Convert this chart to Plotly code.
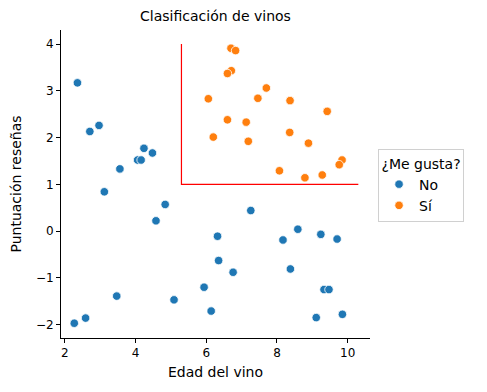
import plotly.graph_objects as go

# Datos
edad_no = [2.36, 2.71, 2.97, 3.56, 4.06, 4.16, 4.24, 4.48, 3.12,
           4.84, 4.58, 6.32, 6.35, 6.76, 5.94, 5.09, 6.14, 3.47, 2.59, 2.27,
           7.26, 8.59, 8.17, 9.24, 9.70, 8.38, 9.33, 9.47, 9.11, 9.85]
punt_no = [3.17, 2.13, 2.26, 1.33, 1.52, 1.52, 1.77, 1.67, 0.84,
           0.57, 0.22, -0.11, -0.63, -0.88, -1.20, -1.47, -1.71, -1.39, -1.86, -1.97,
           0.44, 0.04, -0.19, -0.07, -0.17, -0.81, -1.25, -1.25, -1.85, -1.78]

edad_si = [6.70, 6.83, 6.71, 6.60, 6.06, 6.60, 6.20,
           7.70, 7.46, 8.37, 9.42, 7.13, 7.19, 8.36, 8.89, 9.84, 9.76, 8.07, 8.79, 9.28]
punt_si = [3.91, 3.86, 3.43, 3.37, 2.83, 2.38, 2.01,
           3.06, 2.84, 2.79, 2.56, 2.33, 1.92, 2.11, 1.88, 1.52, 1.42, 1.29, 1.14, 1.20]

# Frontera de decisión (líneas rojas)
umbral_x = [5.3, 5.3, 10.3]
umbral_y = [4.0, 1.0, 1.0]

FONT = "DejaVu Sans"
fig = go.Figure()

fig.add_trace(go.Scatter(x=umbral_x, y=umbral_y, mode="lines",
                         line=dict(color="red", width=1.2),
                         showlegend=False, hoverinfo="skip"))

fig.add_trace(go.Scatter(x=edad_no, y=punt_no, mode="markers", name="No",
                         marker=dict(color="#1f77b4", size=8.5,
                                     line=dict(color="white", width=0.8))))
fig.add_trace(go.Scatter(x=edad_si, y=punt_si, mode="markers", name="Sí",
                         marker=dict(color="#ff7f0e", size=8.5,
                                     line=dict(color="white", width=0.8))))

axis_common = dict(showline=True, linecolor="black", linewidth=1,
                   ticks="outside", ticklen=4, tickcolor="black",
                   showgrid=False, zeroline=False, mirror=False,
                   automargin=False,
                   tickfont=dict(family=FONT, size=12, color="black"))

W, H = 479, 384
L, R, T, B = 53, 117, 22, 54

fig.update_layout(
    width=W, height=H,
    paper_bgcolor="white", plot_bgcolor="white",
    margin=dict(l=L, r=R, t=T, b=B),
    title=dict(text="Clasificación de vinos", x=(L + (W - R)) / 2 / W,
               xanchor="center", y=1 - 8 / H, yanchor="middle",
               font=dict(family=FONT, size=14, color="black")),
    xaxis=dict(range=[1.895, 10.63], tickvals=[2, 4, 6, 8, 10],
               title=dict(text="Edad del vino", standoff=7,
                          font=dict(family=FONT, size=14, color="black")),
               **axis_common),
    yaxis=dict(range=[-2.286, 4.30], tickvals=[-2, -1, 0, 1, 2, 3, 4],
               title=dict(text="Puntuación reseñas", standoff=13,
                          font=dict(family=FONT, size=14, color="black")),
               **axis_common),
    legend=dict(x=1.026, xanchor="left", y=0.494, yanchor="middle",
                bordercolor="#d0d0d0", borderwidth=1, bgcolor="white",
                title=dict(text="¿Me gusta?", side="top center",
                           font=dict(family=FONT, size=14, color="black")),
                font=dict(family=FONT, size=14, color="black"),
                tracegroupgap=4, itemwidth=30),
    showlegend=True,
)

fig.write_html("out.html")
